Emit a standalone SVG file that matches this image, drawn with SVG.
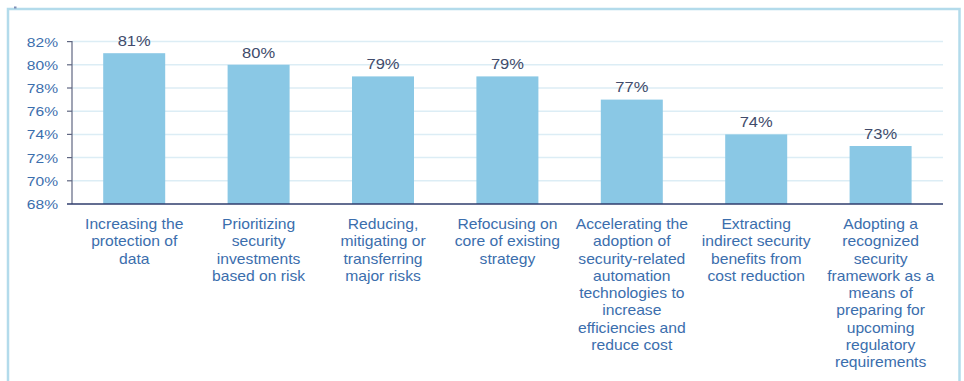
<svg xmlns="http://www.w3.org/2000/svg" width="964" height="381" viewBox="0 0 964 381">
<style>
.frame{fill:none;stroke:#b3dbeb;stroke-width:2.5}
.grid{stroke:#dcedf5;stroke-width:1.5}
.tick{stroke:#5f6681;stroke-width:1.2}
.axis{stroke:#2f3d6c;stroke-width:1.6}
.bar{fill:#8ac8e5}
.ylab{font-family:"Liberation Sans",Arial,sans-serif;font-size:13px;fill:#3b6ead;text-anchor:end}
.val{font-family:"Liberation Sans",Arial,sans-serif;font-size:14px;fill:#414b6b;text-anchor:middle}
.cat{font-family:"Liberation Sans",Arial,sans-serif;font-size:14.5px;fill:#3b6ead;text-anchor:middle}
</style>
<rect width="964" height="381" fill="#ffffff"/>
<g id="frame">
<path class="frame" d="M8 381 V9 H959.5 V381"/>
<rect x="14" y="6.5" width="2.5" height="2" fill="#7f8db5"/>
</g>
<g id="gridlines">
<line class="grid" x1="72" y1="41.6" x2="943" y2="41.6"/>
<line class="grid" x1="72" y1="64.8" x2="943" y2="64.8"/>
<line class="grid" x1="72" y1="88" x2="943" y2="88"/>
<line class="grid" x1="72" y1="111.2" x2="943" y2="111.2"/>
<line class="grid" x1="72" y1="134.4" x2="943" y2="134.4"/>
<line class="grid" x1="72" y1="157.6" x2="943" y2="157.6"/>
<line class="grid" x1="72" y1="180.8" x2="943" y2="180.8"/>
</g>
<g id="y-axis">
<line class="tick" x1="72" y1="41" x2="72" y2="204"/>
<line class="tick" x1="67" y1="41.6" x2="72" y2="41.6"/>
<line class="tick" x1="67" y1="64.8" x2="72" y2="64.8"/>
<line class="tick" x1="67" y1="88" x2="72" y2="88"/>
<line class="tick" x1="67" y1="111.2" x2="72" y2="111.2"/>
<line class="tick" x1="67" y1="134.4" x2="72" y2="134.4"/>
<line class="tick" x1="67" y1="157.6" x2="72" y2="157.6"/>
<line class="tick" x1="67" y1="180.8" x2="72" y2="180.8"/>
<text class="ylab" transform="translate(58,46.6) scale(1.2,1)">82%</text>
<text class="ylab" transform="translate(58,69.8) scale(1.2,1)">80%</text>
<text class="ylab" transform="translate(58,93) scale(1.2,1)">78%</text>
<text class="ylab" transform="translate(58,116.2) scale(1.2,1)">76%</text>
<text class="ylab" transform="translate(58,139.4) scale(1.2,1)">74%</text>
<text class="ylab" transform="translate(58,162.6) scale(1.2,1)">72%</text>
<text class="ylab" transform="translate(58,185.8) scale(1.2,1)">70%</text>
<text class="ylab" transform="translate(58,209) scale(1.2,1)">68%</text>
</g>
<g id="bar1">
<rect class="bar" x="103.2" y="53.2" width="62" height="150.8"/>
<text class="val" transform="translate(134.2,45.9) scale(1.18,1)">81%</text>
<text class="cat" transform="translate(134.2,229) scale(1.08,1)"><tspan x="0" dy="0">Increasing the</tspan><tspan x="0" dy="17.3">protection of</tspan><tspan x="0" dy="17.3">data</tspan></text>
</g>
<g id="bar2">
<rect class="bar" x="227.6" y="64.8" width="62" height="139.2"/>
<text class="val" transform="translate(258.6,57.5) scale(1.18,1)">80%</text>
<text class="cat" transform="translate(258.6,229) scale(1.08,1)"><tspan x="0" dy="0">Prioritizing</tspan><tspan x="0" dy="17.3">security</tspan><tspan x="0" dy="17.3">investments</tspan><tspan x="0" dy="17.3">based on risk</tspan></text>
</g>
<g id="bar3">
<rect class="bar" x="352" y="76.4" width="62" height="127.6"/>
<text class="val" transform="translate(383,69.1) scale(1.18,1)">79%</text>
<text class="cat" transform="translate(383,229) scale(1.08,1)"><tspan x="0" dy="0">Reducing,</tspan><tspan x="0" dy="17.3">mitigating or</tspan><tspan x="0" dy="17.3">transferring</tspan><tspan x="0" dy="17.3">major risks</tspan></text>
</g>
<g id="bar4">
<rect class="bar" x="476.4" y="76.4" width="62" height="127.6"/>
<text class="val" transform="translate(507.4,69.1) scale(1.18,1)">79%</text>
<text class="cat" transform="translate(507.4,229) scale(1.08,1)"><tspan x="0" dy="0">Refocusing on</tspan><tspan x="0" dy="17.3">core of existing</tspan><tspan x="0" dy="17.3">strategy</tspan></text>
</g>
<g id="bar5">
<rect class="bar" x="600.8" y="99.6" width="62" height="104.4"/>
<text class="val" transform="translate(631.8,92.3) scale(1.18,1)">77%</text>
<text class="cat" transform="translate(631.8,229) scale(1.08,1)"><tspan x="0" dy="0">Accelerating the</tspan><tspan x="0" dy="17.3">adoption of</tspan><tspan x="0" dy="17.3">security-related</tspan><tspan x="0" dy="17.3">automation</tspan><tspan x="0" dy="17.3">technologies to</tspan><tspan x="0" dy="17.3">increase</tspan><tspan x="0" dy="17.3">efficiencies and</tspan><tspan x="0" dy="17.3">reduce cost</tspan></text>
</g>
<g id="bar6">
<rect class="bar" x="725.2" y="134.4" width="62" height="69.6"/>
<text class="val" transform="translate(756.2,127.1) scale(1.18,1)">74%</text>
<text class="cat" transform="translate(756.2,229) scale(1.08,1)"><tspan x="0" dy="0">Extracting</tspan><tspan x="0" dy="17.3">indirect security</tspan><tspan x="0" dy="17.3">benefits from</tspan><tspan x="0" dy="17.3">cost reduction</tspan></text>
</g>
<g id="bar7">
<rect class="bar" x="849.6" y="146" width="62" height="58"/>
<text class="val" transform="translate(880.6,138.7) scale(1.18,1)">73%</text>
<text class="cat" transform="translate(880.6,229) scale(1.08,1)"><tspan x="0" dy="0">Adopting a</tspan><tspan x="0" dy="17.3">recognized</tspan><tspan x="0" dy="17.3">security</tspan><tspan x="0" dy="17.3">framework as a</tspan><tspan x="0" dy="17.3">means of</tspan><tspan x="0" dy="17.3">preparing for</tspan><tspan x="0" dy="17.3">upcoming</tspan><tspan x="0" dy="17.3">regulatory</tspan><tspan x="0" dy="17.3">requirements</tspan></text>
</g>
<g id="x-axis">
<line class="axis" x1="67" y1="204" x2="943" y2="204"/>
</g>
</svg>
